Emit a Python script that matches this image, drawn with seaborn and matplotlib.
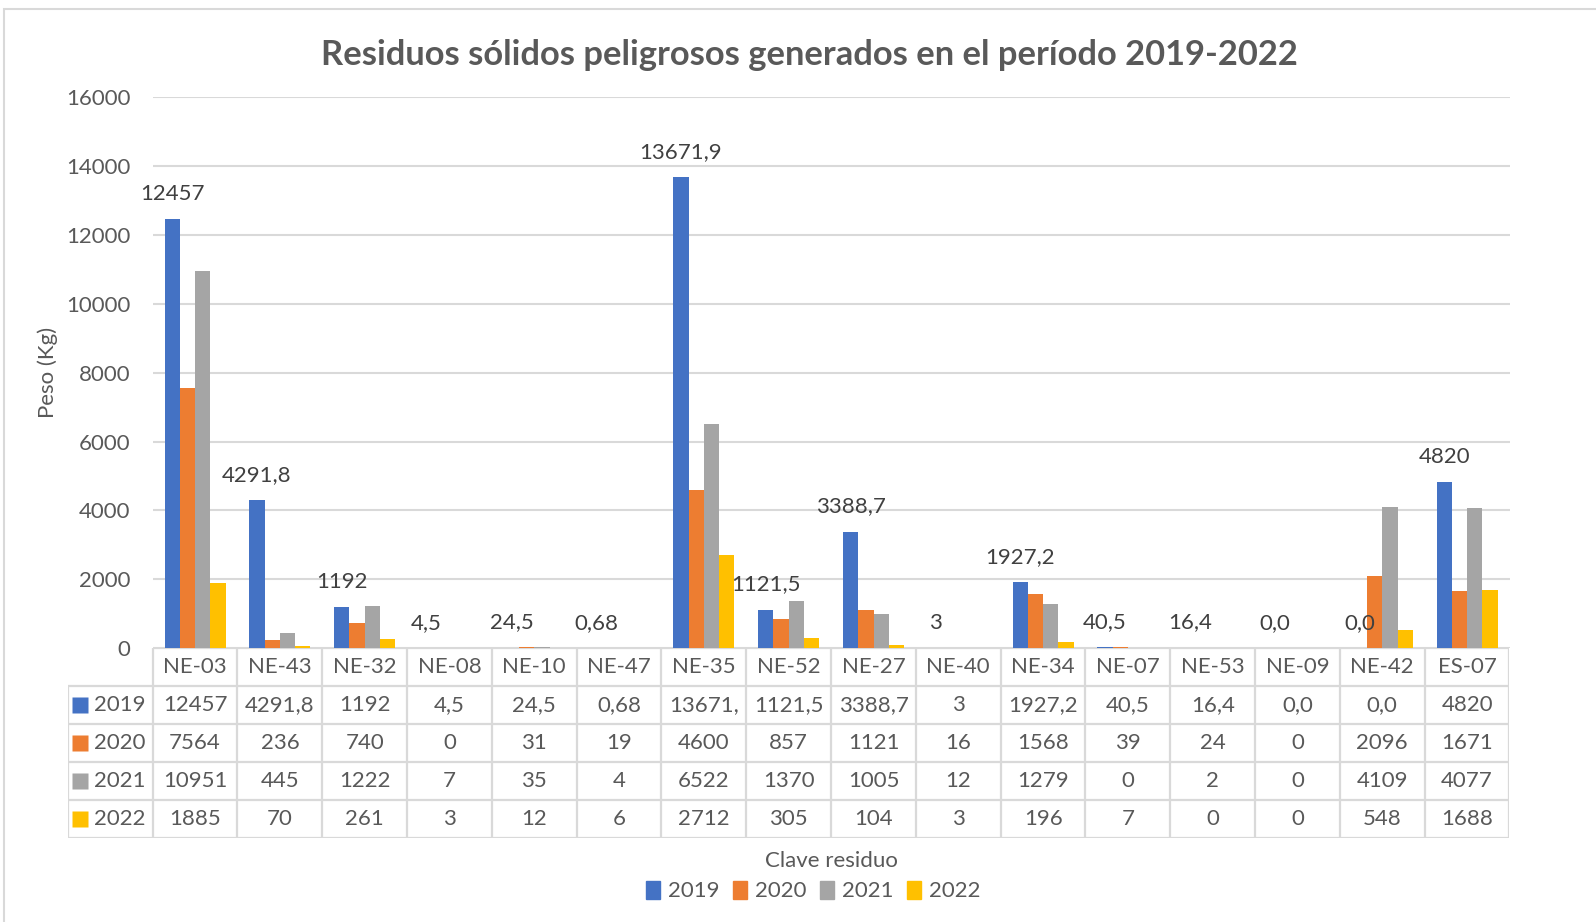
import pandas as pd
import seaborn as sns
import matplotlib.pyplot as plt
from matplotlib.patches import Patch, Rectangle

claves = ['NE-03', 'NE-43', 'NE-32', 'NE-08', 'NE-10', 'NE-47', 'NE-35', 'NE-52',
          'NE-27', 'NE-40', 'NE-34', 'NE-07', 'NE-53', 'NE-09', 'NE-42', 'ES-07']
anios = ['2019', '2020', '2021', '2022']
v2019 = [12457, 4291.8, 1192, 4.5, 24.5, 0.68, 13671.9, 1121.5, 3388.7, 3, 1927.2, 40.5, 16.4, 0.0, 0.0, 4820]
v2020 = [7564, 236, 740, 0, 31, 19, 4600, 857, 1121, 16, 1568, 39, 24, 0, 2096, 1671]
v2021 = [10951, 445, 1222, 7, 35, 4, 6522, 1370, 1005, 12, 1279, 0, 2, 0, 4109, 4077]
v2022 = [1885, 70, 261, 3, 12, 6, 2712, 305, 104, 3, 196, 7, 0, 0, 548, 1688]
# etiquetas tal como aparecen (coma decimal)
etiquetas_2019 = ['12457', '4291,8', '1192', '4,5', '24,5', '0,68', '13671,9', '1121,5',
                  '3388,7', '3', '1927,2', '40,5', '16,4', '0,0', '0,0', '4820']
colores = ['#4472C4', '#ED7D31', '#A5A5A5', '#FFC000']

series = [v2019, v2020, v2021, v2022]
df = pd.DataFrame({
    'Clave': claves * 4,
    'Anio': [a for a in anios for _ in claves],
    'Peso': v2019 + v2020 + v2021 + v2022,
})

sns.set_style('white')
plt.rcParams['font.family'] = ['Lato', 'DejaVu Sans']
gris = '#595959'
fs = 16

W, H = 1596, 922
fig = plt.figure(figsize=(W / 100, H / 100), dpi=100)

left, right, top, bottom = 152.7, 1509.5, 96.7, 648.4
ax = fig.add_axes([left / W, 1 - bottom / H, (right - left) / W, (bottom - top) / H])

sns.barplot(data=df, x='Clave', y='Peso', hue='Anio', order=claves, hue_order=anios,
            palette=colores, width=0.72, saturation=1, legend=False, ax=ax, linewidth=0)
ax.set_xlim(-0.5, 15.5)
ax.set_ylim(0, 16000)
ax.set_yticks(range(0, 16001, 2000))
ax.tick_params(axis='y', labelsize=fs, labelcolor=gris, pad=16, length=0)
ax.tick_params(axis='x', labelbottom=False, length=0)
ax.grid(axis='y', color='#D9D9D9', lw=1.5)
ax.set_axisbelow(True)
for s in ax.spines.values():
    s.set_visible(False)
ax.set_xlabel('')
ax.set_ylabel('Peso (Kg)', fontsize=fs, color=gris)
ax.yaxis.set_label_coords((58 - left) / (right - left), 0.5)
ax.bar_label(ax.containers[0], labels=etiquetas_2019, padding=11, fontsize=fs, color='#404040')

# tabla de datos debajo del grafico
cw = (right - left) / 16
tax = fig.add_axes([(left - cw) / W, 1 - 837.7 / H, (right - left + cw) / W, (837.7 - bottom) / H])
tax.set_xlim(-1.5, 15.5)
tax.set_ylim(5, 0)
tax.axis('off')
lc, lw = '#D9D9D9', 1.6
tax.hlines(0, -0.5, 15.5, color=lc, lw=lw)
tax.hlines([1, 2, 3, 4, 5], -1.5, 15.5, color=lc, lw=lw)
tax.vlines([i - 0.5 for i in range(17)], 0, 5, color=lc, lw=lw)
tax.vlines(-1.5, 1, 5, color=lc, lw=lw)
for i, c in enumerate(claves):
    tax.text(i, 0.5, c, ha='center', va='center', fontsize=fs, color=gris)
for r, (anio, vals, col) in enumerate(zip(anios, series, colores)):
    y = r + 1.5
    tax.plot([-1.36], [y], marker='s', ms=11, color=col, mec='none')
    tax.text(-0.58, y, anio, ha='right', va='center', fontsize=fs, color=gris)
    for i, v in enumerate(vals):
        if r == 0:
            txt = etiquetas_2019[i]
            if len(txt) > 6:
                txt = txt[:6]  # la celda recorta el texto
        else:
            txt = f'{v:g}'
        tax.text(i, y, txt, ha='center', va='center', fontsize=fs, color=gris)

fig.text(809 / W, 1 - 55 / H, 'Residuos sólidos peligrosos generados en el período 2019-2022',
         ha='center', va='center', fontsize=24.8, fontweight='bold', color=gris)
fig.text((left + right) / 2 / W, 1 - 861 / H, 'Clave residuo', ha='center', va='center',
         fontsize=fs, color=gris)
handles = [Patch(color=c, label=a) for a, c in zip(anios, colores)]
fig.legend(handles=handles, loc='center', bbox_to_anchor=(813 / W, 1 - 891 / H), ncol=4,
           frameon=False, fontsize=fs, labelcolor=gris, handlelength=0.65, handleheight=0.9,
           handletextpad=0.35, columnspacing=0.6)

fig.add_artist(Rectangle((4 / W, -0.1), 1.2, 1.1 - 9 / H, transform=fig.transFigure,
                         fill=False, edgecolor='#D9D9D9', lw=1.5))

fig.savefig('out.png', dpi=100, facecolor='white')
